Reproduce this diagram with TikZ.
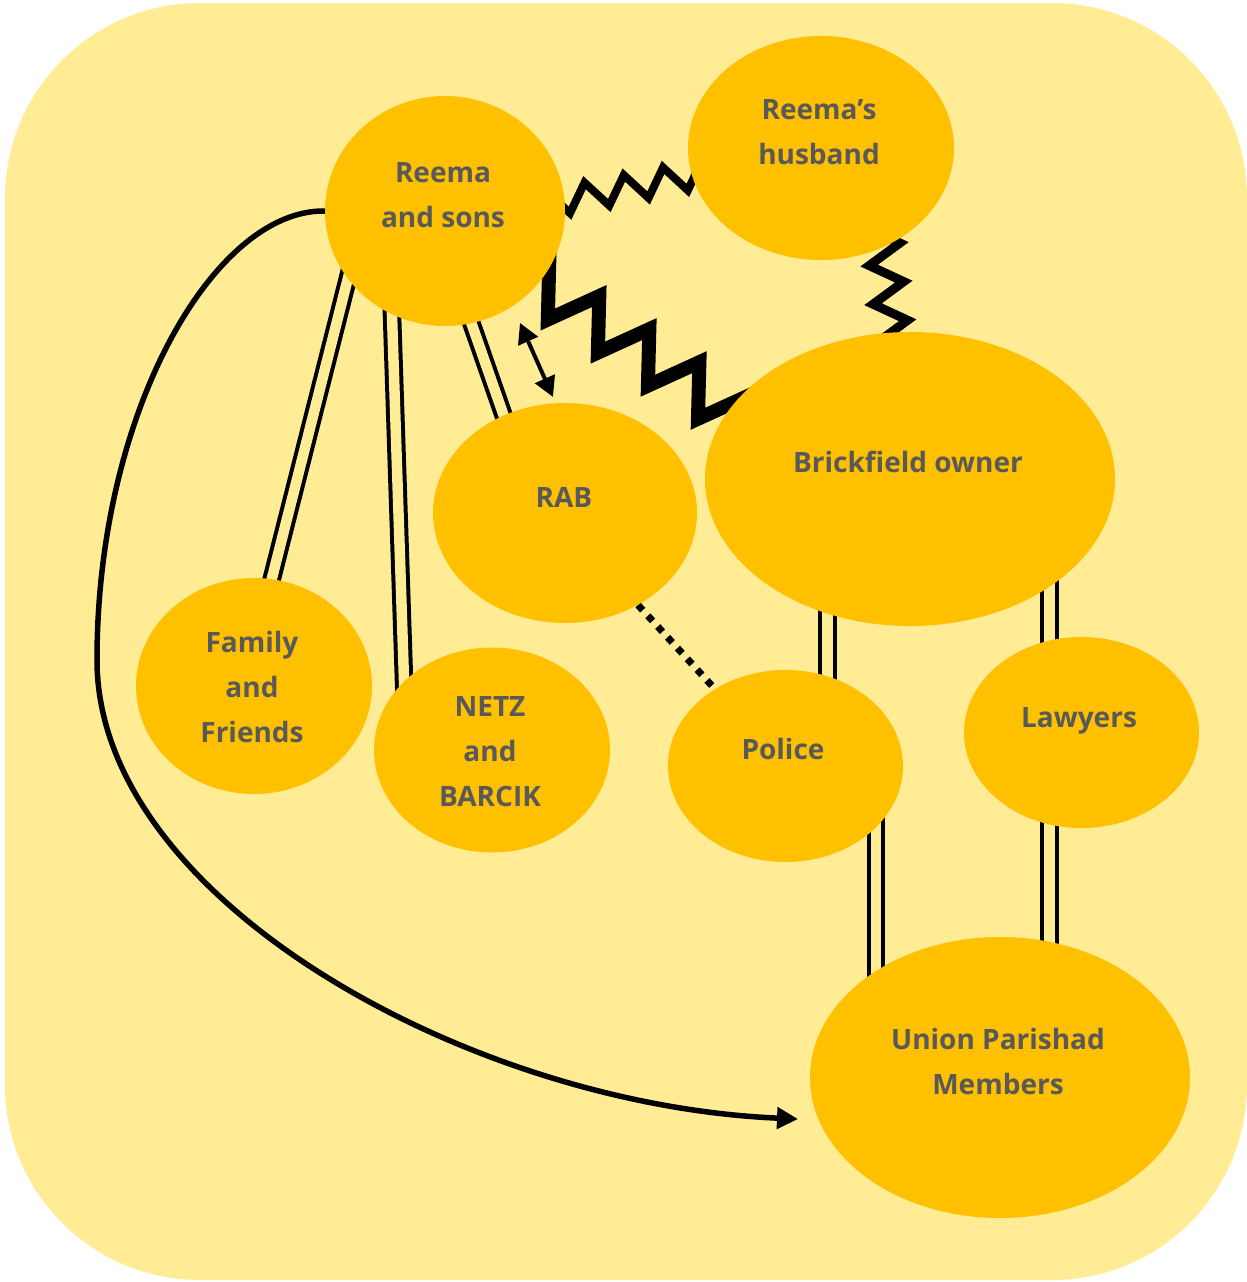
\documentclass[tikz,border=0pt]{standalone}
\usepackage{fontspec}
\setmainfont{Open Sans}
\usetikzlibrary{arrows.meta,decorations.pathmorphing,calc,shapes.geometric}
\definecolor{bgyel}{HTML}{FFEC94}
\definecolor{gold}{HTML}{FFC000}
\definecolor{txtgray}{HTML}{595959}
\pgfdeclarelayer{back}
\pgfdeclarelayer{conn}
\pgfsetlayers{back,conn,main}
\tikzset{
  blob/.style={ellipse, fill=gold, draw=none, inner sep=0pt, outer sep=0pt},
  lbl/.style={text=txtgray, font=\fontsize{28}{45}\selectfont\bfseries, align=center, inner sep=0pt},
  dbl/.style={draw=black, line width=4pt, double=bgyel, double distance=10.5pt},
  zzthin/.style={draw=black, line width=8pt, decorate, decoration={zigzag, segment length=40pt, amplitude=13.6pt}},
  zzthick/.style={draw=black, line width=14pt, decorate, decoration={zigzag, segment length=60pt, amplitude=24pt}},
  zzmid/.style={draw=black, line width=9pt, decorate, decoration={zigzag, segment length=38.8pt, amplitude=16.4pt}},
  dotline/.style={draw=black, line width=7pt, dash pattern=on 7pt off 7.6pt},
  twoway/.style={draw=black, line width=4pt, {Triangle[length=20pt,width=21pt]}-{Triangle[length=20pt,width=21pt]}},
  curvearrow/.style={draw=black, line width=5.5pt, -{Triangle[length=21pt,width=21pt]}}
}
\begin{document}
\begin{tikzpicture}[x=1pt,y=-1pt]
\useasboundingbox (0,0) rectangle (1247,1282);
\begin{pgfonlayer}{back}
  \fill[bgyel, rounded corners=195pt] (5,3) rectangle (1247,1280);
\end{pgfonlayer}

% ellipses
\node[blob, minimum width=240pt, minimum height=230pt] (reema) at (445,211) {};
\node[blob, minimum width=266pt, minimum height=224pt] (husband) at (821,148) {};
\node[blob, minimum width=410pt, minimum height=294pt] (brick) at (910,479) {};
\node[blob, minimum width=264pt, minimum height=220pt] (rab) at (565,513) {};
\node[blob, minimum width=236pt, minimum height=216pt] (family) at (254,686) {};
\node[blob, minimum width=236pt, minimum height=205pt] (netz) at (492,750) {};
\node[blob, minimum width=235pt, minimum height=192pt] (police) at (785.5,766) {};
\node[blob, minimum width=235pt, minimum height=191pt] (lawyers) at (1081.5,732.5) {};
\node[blob, minimum width=380pt, minimum height=281pt] (union) at (1000,1077.5) {};

% labels
\node[lbl] (reemaT) at (443,195) {Reema\\and sons};
\node[lbl] (husbandT) at (819,132) {Reema’s\\husband};
\node[lbl] (brickT) at (908,462) {Brickfield owner};
\node[lbl] (rabT) at (564,497) {RAB};
\node[lbl] (familyT) at (252,687) {Family\\and\\Friends};
\node[lbl] (netzT) at (490,752) {NETZ\\and\\BARCIK};
\node[lbl] (policeT) at (783,749) {Police};
\node[lbl] (lawyersT) at (1079,721) {Lawyers};
\node[lbl] (unionT) at (998,1061) {Union Parishad\\Members};

\coordinate (tipU) at ($(union)+(-202,41.5)$);

\begin{pgfonlayer}{conn}
  % zigzags
  \draw[zzthin] ($(reema)+(93,-5.5)$) -- ($(husband)+(-85.6,19.3)$);
  \draw[zzthick] ($(reema)+(78.5,63.7)$) -- ($(brick)+(-135.5,-38.4)$);
  \draw[zzmid] ($(husband)+(61.6,87)$) -- ($(brick)+(-15.7,-127.2)$);
  % double lines
  \draw[dbl] ($(reema)+(-92.6,49.6)$) -- ($(family)+(12.6,-86.6)$);
  \draw[dbl] ($(reema)+(-53.7,83)$) -- ($(netz)+(-87.3,-48)$);
  \draw[dbl] ($(reema)+(19.9,93.6)$) -- ($(rab)+(-54.9,-79.1)$);
  \draw[dbl] ($(brick)+(-82.5,113)$) -- ($(police)+(42,-71)$);
  \draw[dbl] ($(brick)+(139.5,84)$) -- ($(lawyers)+(-32,-72)$);
  \draw[dbl] ($(police)+(90.5,34)$) -- ($(union)+(-124,-84.5)$);
  \draw[dbl] ($(lawyers)+(-32,70.5)$) -- ($(union)+(49.5,-117.5)$);
  % dotted
  \draw[dotline] ($(rab)+(73,92)$) -- ($(police)+(-71.5,-78)$);
  % two-way arrow
  \draw[twoway] ($(reema)+(75,112)$) -- ($(rab)+(-12,-116)$);
  % long curved arrow
  \draw[curvearrow] (reema.west) .. controls (215,209) and (97,410) .. (97,660)
        .. controls (97,900) and (470,1105) .. (tipU);
\end{pgfonlayer}
\end{tikzpicture}
\end{document}
